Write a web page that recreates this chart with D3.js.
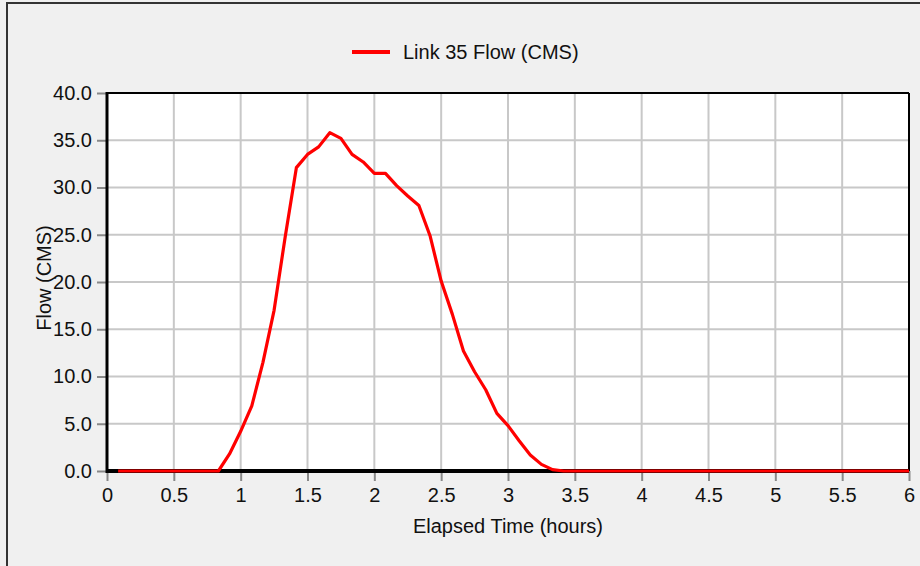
<!DOCTYPE html>
<html>
<head>
<meta charset="utf-8">
<script src="https://cdn.jsdelivr.net/npm/d3@7"></script>
<style>
  html, body { margin: 0; padding: 0; background: #f0f0f0; }
  svg { display: block; }
  text { font-family: Arial, "Liberation Sans", sans-serif; fill: #111; }
</style>
</head>
<body>
<svg id="chart" width="920" height="566"></svg>
<script>
// Elapsed time (hours), 5-minute reporting steps
const elapsedHours = [
  0.0833, 0.1667, 0.2500, 0.3333, 0.4167, 0.5000, 0.5833, 0.6667, 0.7500, 0.8333,
  0.9167, 1.0000, 1.0833, 1.1667, 1.2500, 1.3333, 1.4167, 1.5000, 1.5833, 1.6667,
  1.7500, 1.8333, 1.9167, 2.0000, 2.0833, 2.1667, 2.2500, 2.3333, 2.4167, 2.5000,
  2.5833, 2.6667, 2.7500, 2.8333, 2.9167, 3.0000, 3.0833, 3.1667, 3.2500, 3.3333,
  3.4167, 3.5000, 3.5833, 3.6667, 3.7500, 3.8333, 3.9167, 4.0000, 4.0833, 4.1667,
  4.2500, 4.3333, 4.4167, 4.5000, 4.5833, 4.6667, 4.7500, 4.8333, 4.9167, 5.0000,
  5.0833, 5.1667, 5.2500, 5.3333, 5.4167, 5.5000, 5.5833, 5.6667, 5.7500, 5.8333,
  5.9167, 6.0000
];

// Link 35 flow (CMS)
const link35Flow = [
  0, 0, 0, 0, 0, 0, 0, 0, 0, 0,
  1.8, 4.2, 6.9, 11.5, 17.0, 24.8, 32.1, 33.5, 34.3, 35.8,
  35.2, 33.5, 32.7, 31.5, 31.5, 30.2, 29.1, 28.1, 24.9, 20.1,
  16.6, 12.7, 10.5, 8.6, 6.1, 4.8, 3.2, 1.7, 0.7, 0.15,
  0, 0, 0, 0, 0, 0, 0, 0, 0, 0,
  0, 0, 0, 0, 0, 0, 0, 0, 0, 0,
  0, 0, 0, 0, 0, 0, 0, 0, 0, 0,
  0, 0
];

const xTickValues = [0, 0.5, 1, 1.5, 2, 2.5, 3, 3.5, 4, 4.5, 5, 5.5, 6];
const xTickLabels = ["0", "0.5", "1", "1.5", "2", "2.5", "3", "3.5", "4", "4.5", "5", "5.5", "6"];
const yTickValues = [0, 5, 10, 15, 20, 25, 30, 35, 40];
const yTickLabels = ["0.0", "5.0", "10.0", "15.0", "20.0", "25.0", "30.0", "35.0", "40.0"];

const seriesName = "Link 35 Flow (CMS)";
const xTitle = "Elapsed Time (hours)";
const yTitle = "Flow (CMS)";

const svg = d3.select("#chart");
const W = 920, H = 566;
const plot = { left: 107, right: 909, top: 93, bottom: 471 };
const FONT = 20;

const x = d3.scaleLinear().domain([0, 6]).range([plot.left, plot.right]);
const y = d3.scaleLinear().domain([0, 40]).range([plot.bottom, plot.top]);

// Panel background and frame
svg.append("rect").attr("width", W).attr("height", H).attr("fill", "#f0f0f0");
svg.append("rect")
  .attr("x", 7).attr("y", 3)
  .attr("width", W + 20).attr("height", H + 20)
  .attr("fill", "none").attr("stroke", "#333").attr("stroke-width", 2);

// Plot area
svg.append("rect")
  .attr("x", plot.left).attr("y", plot.top)
  .attr("width", plot.right - plot.left).attr("height", plot.bottom - plot.top)
  .attr("fill", "#fff");

// Grid
const grid = svg.append("g").attr("stroke", "#c8c8c8").attr("stroke-width", 2);
grid.selectAll("line.v").data(xTickValues.slice(1, -1)).join("line")
  .attr("x1", d => x(d)).attr("x2", d => x(d))
  .attr("y1", plot.top).attr("y2", plot.bottom);
grid.selectAll("line.h").data(yTickValues.slice(1, -1)).join("line")
  .attr("x1", plot.left).attr("x2", plot.right)
  .attr("y1", d => y(d)).attr("y2", d => y(d));

// Axes
const xAxis = d3.axisBottom(x)
  .tickValues(xTickValues)
  .tickFormat((d, i) => xTickLabels[i])
  .tickSize(10).tickPadding(7);
const gx = svg.append("g").attr("transform", `translate(0,${plot.bottom})`).call(xAxis);
gx.select(".domain").remove();
gx.selectAll(".tick line").attr("stroke", "#888").attr("stroke-width", 2);
gx.selectAll(".tick text").attr("font-size", FONT).attr("fill", "#111")
  .attr("font-family", "Arial, 'Liberation Sans', sans-serif");

const yAxis = d3.axisLeft(y)
  .tickValues(yTickValues)
  .tickFormat((d, i) => yTickLabels[i])
  .tickSize(10).tickPadding(5);
const gy = svg.append("g").attr("transform", `translate(${plot.left},0)`).call(yAxis);
gy.select(".domain").remove();
gy.selectAll(".tick line").attr("stroke", "#888").attr("stroke-width", 2);
gy.selectAll(".tick text").attr("font-size", FONT).attr("fill", "#111")
  .attr("font-family", "Arial, 'Liberation Sans', sans-serif");

// Plot frame: heavy left and bottom, lighter top and right
svg.append("line").attr("x1", plot.left).attr("x2", plot.right)
  .attr("y1", plot.top).attr("y2", plot.top).attr("stroke", "#000").attr("stroke-width", 2);
svg.append("line").attr("x1", plot.right).attr("x2", plot.right)
  .attr("y1", plot.top).attr("y2", plot.bottom).attr("stroke", "#000").attr("stroke-width", 2);
svg.append("line").attr("x1", plot.left).attr("x2", plot.left)
  .attr("y1", plot.top - 1).attr("y2", plot.bottom + 2).attr("stroke", "#000").attr("stroke-width", 3);
svg.append("line").attr("x1", plot.left).attr("x2", plot.right)
  .attr("y1", plot.bottom).attr("y2", plot.bottom).attr("stroke", "#000").attr("stroke-width", 4);

// Flow series
const series = elapsedHours.map((t, i) => ({ t, v: link35Flow[i] }));
svg.append("path")
  .datum(series)
  .attr("fill", "none")
  .attr("stroke", "#ff0000")
  .attr("stroke-width", 3.2)
  .attr("stroke-linejoin", "round")
  .attr("d", d3.line().x(d => x(d.t)).y(d => y(d.v)));

// Axis titles
svg.append("text")
  .attr("x", (plot.left + plot.right) / 2).attr("y", 533)
  .attr("text-anchor", "middle").attr("font-size", FONT)
  .text(xTitle);
svg.append("text")
  .attr("transform", "translate(51,278) rotate(-90)")
  .attr("text-anchor", "middle").attr("font-size", FONT)
  .text(yTitle);

// Legend
const legend = svg.append("g");
legend.append("line").attr("x1", 352).attr("x2", 390).attr("y1", 52).attr("y2", 52)
  .attr("stroke", "#ff0000").attr("stroke-width", 4);
legend.append("text").attr("x", 403).attr("y", 59).attr("font-size", FONT)
  .text(seriesName);
</script>
</body>
</html>
